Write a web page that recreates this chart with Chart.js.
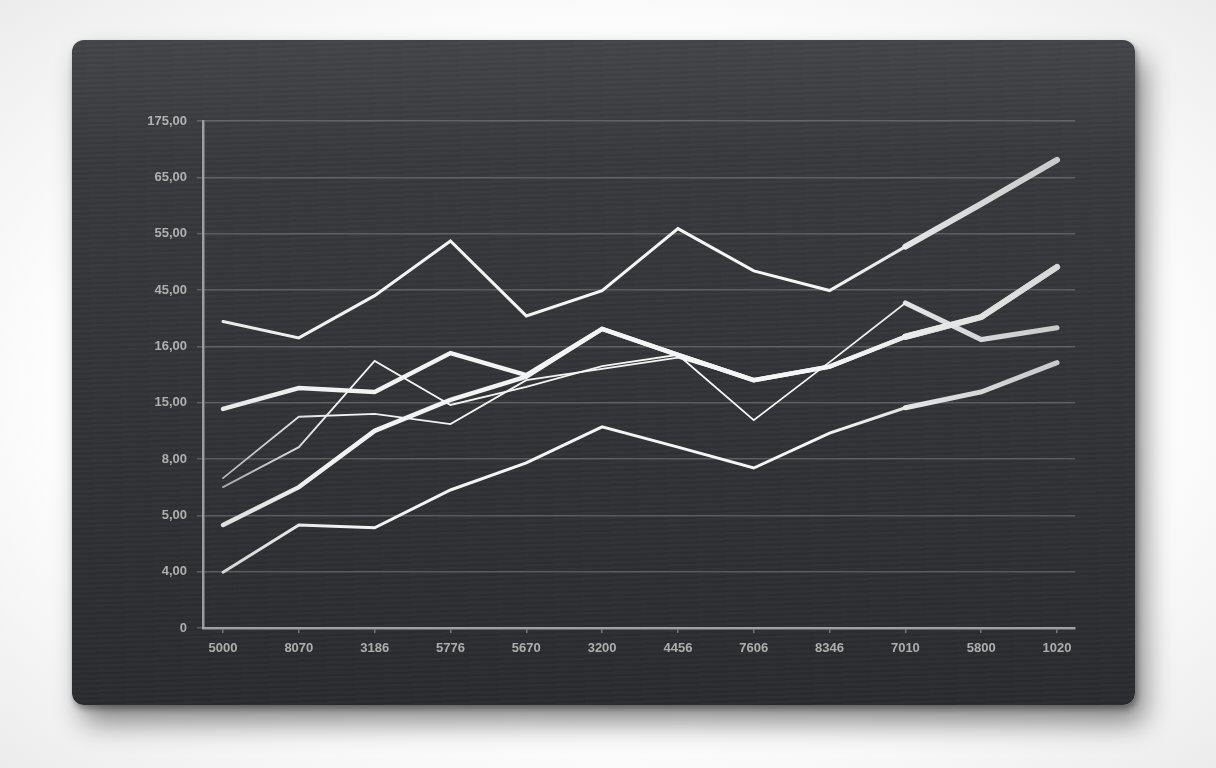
<!DOCTYPE html>
<html>
<head>
<meta charset="utf-8">
<script src="https://cdn.jsdelivr.net/npm/chart.js@4.4.1/dist/chart.umd.min.js"></script>
<style>
  html, body { margin: 0; padding: 0; background: #f7f7f7; }
  #wrap { position: relative; width: 1216px; height: 768px; overflow: hidden;
    background: radial-gradient(ellipse at 50% 50%, #ffffff 60%, #ececec 100%); }
  #slate { position: absolute; left: 72px; top: 40px; width: 1063px; height: 665px;
    border-radius: 12px;
    background:
      repeating-linear-gradient(178deg, rgba(255,255,255,0.018) 0px, rgba(255,255,255,0.018) 2px, rgba(0,0,0,0.02) 3px, rgba(0,0,0,0.02) 5px),
      linear-gradient(180deg, #434447 0%, #38393c 18%, #323336 55%, #2a2b2e 100%);
    box-shadow: 10px 18px 28px rgba(0,0,0,0.45), 2px 4px 6px rgba(0,0,0,0.35); }
  #chart { position: absolute; left: 0; top: 0; }
</style>
</head>
<body>
<div id="wrap">
  <div id="slate"></div>
  <canvas id="chart" width="1216" height="768"></canvas>
</div>
<script>
const xLabels = ["5000", "8070", "3186", "5776", "5670", "3200", "4456", "7606", "8346", "7010", "5800", "1020"];
const yLabels = ["0", "4,00", "5,00", "8,00", "15,00", "16,00", "45,00", "55,00", "65,00", "175,00"];

// series values, in grid steps (0 = axis, 9 = top line)
const topLine   = [5.44, 5.15, 5.90, 6.87, 5.54, 5.99, 7.09, 6.34, 5.99, 6.77, 7.53, 8.31];
const thickA    = [3.89, 4.26, 4.19, 4.88, 4.49, 5.31, 4.85, 4.40, 4.64, 5.17, 5.52, 6.41];
const thickB    = [1.83, 2.50, 3.50, 4.05, 4.46, 5.31, 4.85, 4.40, 4.64, 5.17, 5.52, 6.41];
const thinA     = [2.66, 3.75, 3.80, 3.62, 4.40, 4.60, 4.80, 4.40, 4.64, 5.17, 5.52, 6.41];
const thinB     = [2.50, 3.21, 4.74, 3.96, 4.28, 4.65, 4.85, 3.69, 4.72, 5.77, 5.12, 5.33];
const bottomLine = [0.99, 1.83, 1.78, 2.45, 2.93, 3.57, 3.21, 2.84, 3.46, 3.91, 4.19, 4.71];

// white chalk-ish stroke, a bit greyer at the soft ends
function stroke(leftCol) {
  return ctx => {
    const area = ctx.chart.chartArea;
    if (!area) return "#f4f4f4";
    const g = ctx.chart.ctx.createLinearGradient(area.left, 0, area.right, 0);
    g.addColorStop(0, leftCol);
    g.addColorStop(0.15, "#f2f2f2");
    g.addColorStop(0.7, "#f6f6f6");
    g.addColorStop(1, "rgba(215,215,215,0.9)");
    return g;
  };
}

const toPts = arr => arr.map((v, i) => ({ x: i, y: v }));

// width = normal stroke, fatFrom/fatWidth = the out-of-focus right end
const series = [
  { data: topLine, width: 3, fatFrom: 9, fatWidth: 6, left: "#e8e8e8" },
  { data: thickA, width: 4.5, fatFrom: 9, fatWidth: 6, left: "#e6e6e6" },
  { data: thickB, width: 4.5, fatFrom: 9, fatWidth: 6, left: "#dcdcdc" },
  { data: thinA, width: 1.8, fatFrom: 11, fatWidth: 1.8, left: "#a8a8a8" },
  { data: thinB, width: 1.8, fatFrom: 9, fatWidth: 5, left: "#9a9a9a" },
  { data: bottomLine, width: 3, fatFrom: 9, fatWidth: 5, left: "#d0d0d0" }
];

const tickFont = { family: "Liberation Sans", size: 13, weight: "bold" };

new Chart(document.getElementById("chart"), {
  type: "line",
  data: {
    datasets: series.map(s => ({
      data: toPts(s.data),
      borderColor: stroke(s.left),
      borderWidth: s.width,
      segment: { borderWidth: c => c.p0DataIndex >= s.fatFrom ? s.fatWidth : s.width },
      borderCapStyle: "round",
      borderJoinStyle: "miter",
      pointRadius: 0,
      tension: 0,
      fill: false
    }))
  },
  options: {
    responsive: false,
    animation: false,
    layout: { padding: { top: 121, right: 141, left: 0, bottom: 0 } },
    plugins: { legend: { display: false }, tooltip: { enabled: false } },
    scales: {
      x: {
        type: "linear",
        min: -0.264,
        max: 11.237,
        afterBuildTicks: s => { s.ticks = xLabels.map((_, i) => ({ value: i })); },
        afterFit: s => { s.height = 140; },
        ticks: {
          callback: v => xLabels[v],
          color: "rgba(205,205,205,0.8)",
          font: tickFont,
          padding: 8,
          maxRotation: 0
        },
        grid: { drawOnChartArea: false, tickLength: 5, color: "rgba(190,190,190,0.5)", lineWidth: 1.5 },
        border: { color: "rgba(175,175,178,0.85)", width: 2.5 }
      },
      y: {
        type: "linear",
        min: 0,
        max: 9,
        afterBuildTicks: s => { s.ticks = yLabels.map((_, i) => ({ value: i })); },
        afterFit: s => { s.width = 203; },
        ticks: {
          callback: v => yLabels[v],
          color: "rgba(205,205,205,0.8)",
          font: tickFont,
          padding: 10
        },
        grid: { color: "rgba(200,200,200,0.28)", lineWidth: 1.5, tickLength: 6 },
        border: { color: "rgba(175,175,178,0.85)", width: 2.5 }
      }
    }
  }
});
</script>
</body>
</html>
